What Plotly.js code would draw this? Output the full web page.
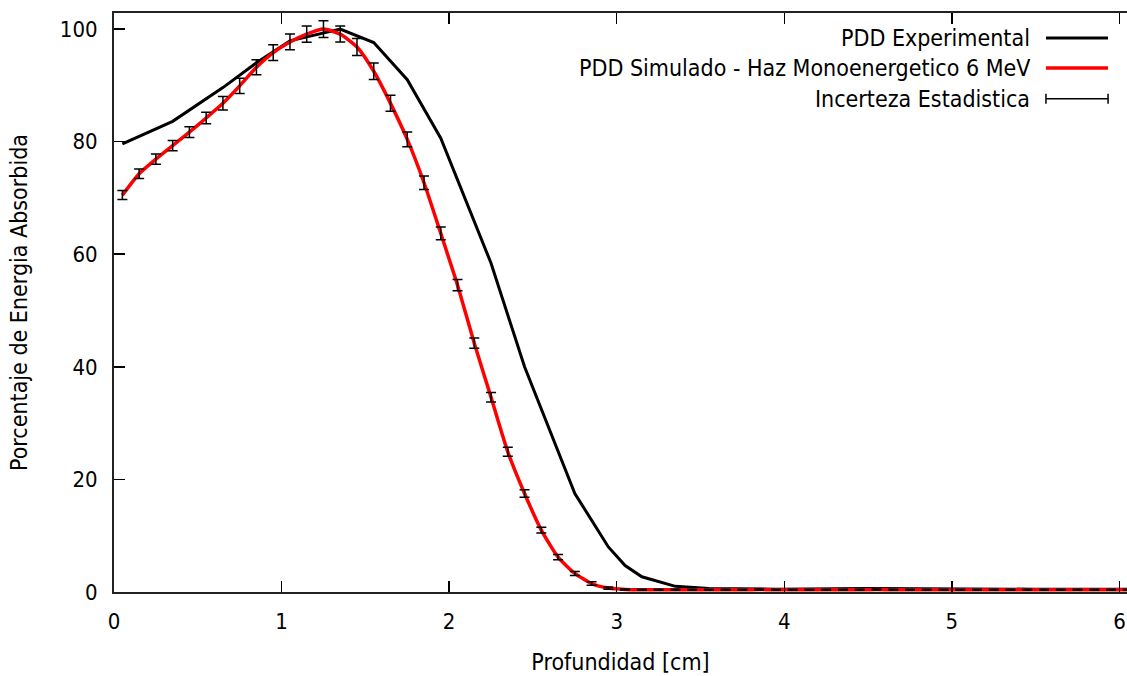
<!DOCTYPE html>
<html>
<head>
<meta charset="utf-8">
<script src="https://cdn.plot.ly/plotly-3.0.1.min.js"></script>
<style>html,body{margin:0;padding:0;background:#fff;}#chart{width:1127px;height:676px;}</style>
</head>
<body>
<div id="chart"></div>
<script>
// Simulated PDD (monoenergetic 6 MeV), depth in cm
const simDepth = [0.05,0.15,0.25,0.35,0.45,0.55,0.65,0.75,0.85,0.95,
                  1.05,1.15,1.25,1.35,1.45,1.55,1.65,1.75,1.85,1.95,
                  2.05,2.15,2.25,2.35,2.45,2.55,2.65,2.75,2.85,2.95,
                  3.05,3.15,3.25,3.35,3.45,3.55,3.65,3.75,3.85,3.95,
                  4.05,4.15,4.25,4.35,4.45,4.55,4.65,4.75,4.85,4.95,
                  5.05,5.15,5.25,5.35,5.45,5.55,5.65,5.75,5.85,5.95,6.05];
const simDose  = [70.5,74.3,76.9,79.3,81.7,84.2,86.8,89.9,93.2,95.8,
                  97.7,99.1,100.0,99.1,96.8,92.5,86.8,80.4,72.7,63.7,
                  54.5,44.2,34.6,24.9,17.5,11.0,6.2,3.3,1.5,0.7,
                  0.45,0.4,0.4,0.4,0.4,0.4,0.4,0.4,0.45,0.4,
                  0.4,0.4,0.4,0.4,0.4,0.45,0.4,0.4,0.4,0.4,
                  0.4,0.4,0.4,0.4,0.4,0.4,0.4,0.4,0.4,0.4,0.4];
const simErr   = [0.8,0.85,0.9,0.92,0.95,1.03,1.2,1.35,1.33,1.4,
                  1.4,1.45,1.48,1.42,1.5,1.48,1.42,1.3,1.2,1.15,
                  1.0,0.9,0.85,0.8,0.65,0.5,0.45,0.35,0.3,0.2,
                  0.1,0.1,0.1,0.1,0.1,0.1,0.1,0.1,0.1,0.1,
                  0.1,0.1,0.1,0.1,0.1,0.1,0.1,0.1,0.1,0.1,
                  0.1,0.1,0.1,0.1,0.1,0.1,0.1,0.1,0.1,0.1,0.1];

// Experimental PDD
const expDepth = [0.05,0.35,0.65,0.85,1.05,1.35,1.55,1.75,1.95,2.25,2.45,2.75,2.95,3.05,3.15,3.35,3.55,3.95,4.5,5.0,5.5,6.05];
const expDose  = [79.6,83.6,89.6,94.0,97.9,100.0,97.6,91.0,80.6,58.4,40.0,17.5,8.0,4.7,2.7,1.0,0.6,0.5,0.6,0.5,0.5,0.5];

const xTicks = [0,1,2,3,4,5,6];
const yTicks = [0,20,40,60,80,100];

const legendLabels = ["PDD Experimental", "PDD Simulado - Haz Monoenergetico 6 MeV", "Incerteza Estadistica"];

const FONT = "'DejaVu Sans Condensed', 'DejaVu Sans', sans-serif";

const traces = [
  {x: expDepth, y: expDose, mode: 'lines', line: {color: '#000000', width: 3}, showlegend: false, hoverinfo: 'skip'},
  {x: simDepth, y: simDose, mode: 'lines', line: {color: '#ff0000', width: 3.5, shape: 'spline', smoothing: 0.6}, showlegend: false, hoverinfo: 'skip'},
  {x: simDepth, y: simDose, mode: 'markers', marker: {size: 1, opacity: 0}, showlegend: false, hoverinfo: 'skip',
   error_y: {type: 'data', array: simErr, visible: true, color: '#000000', thickness: 1.5, width: 5}}
];

// manual legend (text right-aligned, sample to the right)
const legY = [0.9568, 0.9049, 0.8518];
const txtX = 0.9062, s0 = 0.920, s1 = 0.9813, cap = 0.0087;
const annotations = legendLabels.map((t, i) => ({
  text: t, xref: 'paper', yref: 'paper', x: txtX, y: legY[i], xanchor: 'right', yanchor: 'middle',
  showarrow: false, font: {family: FONT, size: 23, color: '#000'}
}));
const shapes = [
  {type: 'line', xref: 'paper', yref: 'paper', x0: s0, x1: s1, y0: legY[0], y1: legY[0], line: {color: '#000', width: 3}},
  {type: 'line', xref: 'paper', yref: 'paper', x0: s0, x1: s1, y0: legY[1], y1: legY[1], line: {color: '#ff0000', width: 3.5}},
  {type: 'line', xref: 'paper', yref: 'paper', x0: s0, x1: s1, y0: legY[2], y1: legY[2], line: {color: '#000', width: 1.5}},
  {type: 'line', xref: 'paper', yref: 'paper', x0: s0, x1: s0, y0: legY[2]-cap, y1: legY[2]+cap, line: {color: '#000', width: 1.5}},
  {type: 'line', xref: 'paper', yref: 'paper', x0: s1, x1: s1, y0: legY[2]-cap, y1: legY[2]+cap, line: {color: '#000', width: 1.5}}
];

const layout = {
  width: 1127, height: 676,
  margin: {l: 114, r: 0, t: 13, b: 84},
  paper_bgcolor: '#fff', plot_bgcolor: '#fff',
  font: {family: FONT, size: 22, color: '#000'},
  showlegend: false,
  xaxis: {
    range: [0, 6.045], tickvals: xTicks, ticktext: xTicks.map(String),
    ticks: 'inside', ticklen: 11, tickwidth: 1.5, tickcolor: '#000',
    showline: true, linewidth: 2, linecolor: '#222', mirror: 'ticks',
    showgrid: false, zeroline: false, ticklabelstandoff: 9,
    tickfont: {family: FONT, size: 22, color: '#000'},
    title: {text: 'Profundidad [cm]', font: {family: FONT, size: 23, color: '#000'}, standoff: 20}
  },
  yaxis: {
    range: [0, 102.85], tickvals: yTicks, ticktext: yTicks.map(String),
    ticks: 'inside', ticklen: 11, tickwidth: 1.5, tickcolor: '#000',
    showline: true, linewidth: 2, linecolor: '#222',
    showgrid: false, zeroline: false, ticklabelstandoff: 10,
    tickfont: {family: FONT, size: 22, color: '#000'},
    title: {text: 'Porcentaje de Energia Absorbida', font: {family: FONT, size: 23, color: '#000'}, standoff: 26}
  },
  annotations: annotations,
  shapes: shapes
};

Plotly.newPlot('chart', traces, layout, {staticPlot: true, displayModeBar: false});
</script>
</body>
</html>
